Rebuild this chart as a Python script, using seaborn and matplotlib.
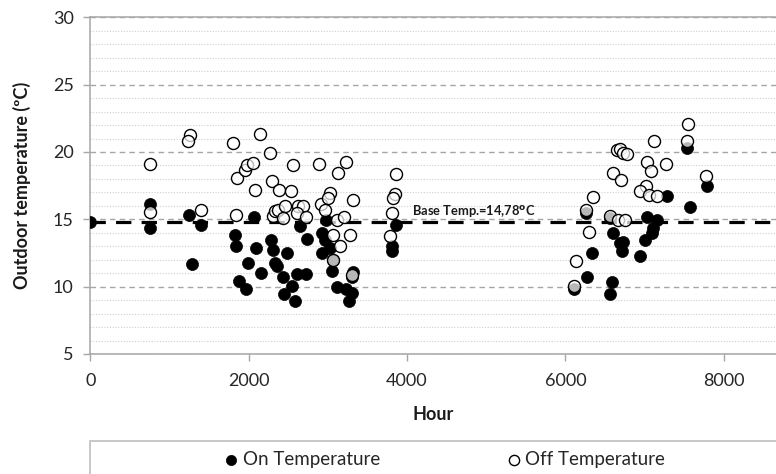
import numpy as np
import pandas as pd
import matplotlib
matplotlib.use("Agg")
import matplotlib.pyplot as plt
import seaborn as sns
from matplotlib.patches import Rectangle
from matplotlib.ticker import MultipleLocator

# ---- data ----
on_hour = [0, 753, 753, 1246, 1394, 1280, 1825, 1840, 1875, 1966, 1988, 2065, 2089, 2150,
           2282, 2311, 2333, 2354, 2430, 2480, 2450, 2543, 2605, 2590, 2724, 2733, 2648,
           2922, 2922, 2960, 3027, 3052, 2975, 3112, 3225, 3265, 3301, 3322, 3301, 3806,
           3806, 3860, 3069,
           6261, 6333, 6277, 6109, 6585, 6564, 6605, 6690, 6732, 6711, 6943, 7006, 7090,
           7111, 7154, 7027, 7280, 7532, 7574, 7785, 6564]
on_temp = [14.8, 16.15, 14.35, 15.35, 14.6, 11.7, 13.86, 13.05, 10.4, 9.8, 11.77, 15.15, 12.9, 11.0,
           13.5, 12.75, 11.77, 11.5, 10.73, 12.5, 9.45, 10.03, 10.97, 8.9, 10.95, 13.55, 14.5,
           13.99, 12.5, 13.5, 12.88, 11.14, 14.97, 9.95, 9.8, 8.95, 9.5, 11.1, 10.75, 13.0,
           12.62, 14.55, 12.0,
           15.45, 12.5, 10.73, 9.8, 10.35, 9.43, 13.99, 13.25, 13.3, 12.62, 12.25, 13.5, 13.99,
           14.36, 14.97, 15.17, 16.75, 20.3, 15.89, 17.47, 15.1]

off_hour = [756, 756, 1262, 1238, 1806, 1394, 1836, 1857, 1954, 1980, 2059, 2080, 2143, 2270,
            2291, 2383, 2531, 2560, 2311, 2333, 2375, 2459, 2438, 2627, 2690, 2606, 2724,
            2890, 2915, 2964, 3027, 3006, 3112, 3205, 3125, 3226, 3322, 3860, 3848, 3827,
            3806, 3780, 3280, 3154, 3069, 3062, 3301,
            7553, 7532, 7125, 6648, 6690, 6732, 6774, 7027, 7270, 7081, 6597, 6699, 7776,
            7018, 6943, 7060, 7154, 6345, 6261, 6564, 6669, 6753, 6300, 6134, 6109]
off_temp = [19.13, 15.52, 21.27, 20.85, 20.7, 15.7, 15.3, 18.07, 18.65, 19.05, 19.18, 17.2, 21.33, 19.9,
            17.81, 17.2, 17.07, 19.05, 15.22, 15.59, 15.72, 15.96, 15.1, 15.96, 15.96, 15.47, 15.17,
            19.1, 16.12, 15.72, 16.95, 16.6, 14.97, 15.2, 18.44, 19.25, 16.46, 18.4, 16.9, 16.58,
            15.47, 13.74, 13.86, 13.0, 13.86, 12.0, 10.9,
            22.09, 20.78, 20.8, 20.11, 20.2, 19.9, 19.85, 19.25, 19.1, 18.56, 18.44, 17.89, 18.18,
            17.5, 17.07, 16.83, 16.7, 16.63, 15.72, 15.22, 14.97, 14.97, 14.05, 11.88, 10.03]

base_temp = 14.78
x_ticks = [0, 2000, 4000, 6000, 8000]
y_ticks = [5, 10, 15, 20, 25, 30]
series_labels = ["On Temperature", "Off Temperature"]

on_df = pd.DataFrame({"Hour": on_hour, "Temp": on_temp})
off_df = pd.DataFrame({"Hour": off_hour, "Temp": off_temp})

sns.set_theme(style="white")
plt.rcParams['font.family'] = ['Lato', 'DejaVu Sans']

fig = plt.figure(figsize=(7.76, 4.74), dpi=100)
ax = fig.add_axes([90.3 / 776, 1 - 354 / 474, 1 - 90.3 / 776, (354 - 17.3) / 474])

grey = '#a6a6a6'
ax.set_xlim(0, 8660)
ax.set_ylim(5, 30)
ax.set_xticks(x_ticks)
ax.set_yticks(y_ticks)
ax.yaxis.set_minor_locator(MultipleLocator(1))
ax.grid(False)
ax.grid(which='major', axis='y', linestyle=(0, (4, 3)), color=grey, lw=1.0, zorder=0)
ax.grid(which='minor', axis='y', linestyle=(0, (1, 1.5)), color='#cfcfcf', lw=0.8, zorder=0)
ax.set_axisbelow(True)

ax.axhline(base_temp, color='black', lw=2.3, dashes=(4.8, 3.2), zorder=2)

sns.scatterplot(data=on_df, x="Hour", y="Temp", ax=ax, color='black', s=75,
                edgecolor='black', linewidth=0.5, label=series_labels[0], zorder=3)
sns.scatterplot(data=off_df, x="Hour", y="Temp", ax=ax, facecolor=(1, 1, 1, 0.72), s=75,
                edgecolor='black', linewidth=1.0, label=series_labels[1], zorder=4)

handles, labels = ax.get_legend_handles_labels()
ax.legend_.remove()

ax.text(4060, 15.6, "Base Temp.=14,78$^{\\mathbf{o}}$C", fontsize=9.3, fontweight='bold',
        ha='left', va='center', color='#1a1a1a')

for side in ['left', 'bottom', 'top']:
    ax.spines[side].set_visible(True)
    ax.spines[side].set_color(grey)
    ax.spines[side].set_linewidth(1.1)
ax.spines['right'].set_visible(False)

ax.tick_params(axis='both', which='major', direction='out', length=5, width=1, color=grey,
               labelsize=13, labelcolor='#262626', bottom=True, left=True)
ax.tick_params(axis='y', which='major', pad=7)
ax.tick_params(axis='x', which='major', pad=9)
ax.tick_params(axis='y', which='minor', length=0)

ax.set_xlabel("Hour", fontsize=13, fontweight='bold', labelpad=12, color='#1a1a1a')
ax.set_ylabel("Outdoor temperature (ºC)", fontsize=13, fontweight='bold', labelpad=16, color='#1a1a1a')

fig.legend(handles, labels, loc='center', bbox_to_anchor=(445 / 776, 1 - 459 / 474), ncol=2,
           frameon=False, columnspacing=6.8, handletextpad=0.25, handlelength=0.7,
           fontsize=13.5, markerscale=0.85)

fig.add_artist(Rectangle((90 / 776, -0.02), 1, (474 - 441) / 474 + 0.02, transform=fig.transFigure,
                         fill=False, edgecolor='#bfbfbf', lw=1.2))

fig.savefig("out.png", dpi=100)
